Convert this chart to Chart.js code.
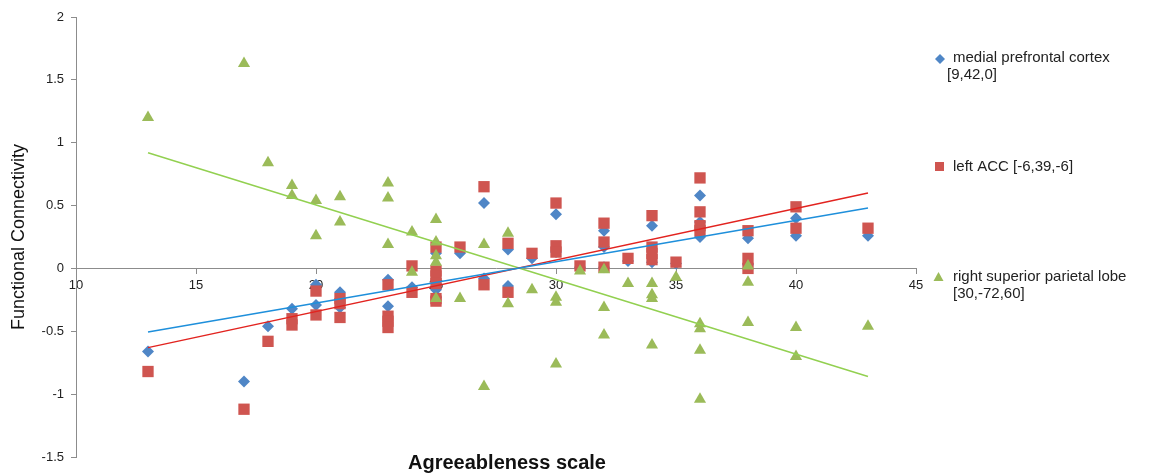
<!DOCTYPE html>
<html>
<head>
<meta charset="utf-8">
<script src="https://cdn.jsdelivr.net/npm/chart.js@4.4.1/dist/chart.umd.min.js"></script>
<style>
  html, body { margin: 0; padding: 0; background: #fff; }
</style>
</head>
<body>
<canvas id="chart" width="1150" height="475"></canvas>
<script>
// agreeableness score (x) and functional connectivity (y) per subject
const mpfcX = [13, 17, 18, 19, 20, 20, 21, 21, 23, 23, 24, 25, 25, 25, 26, 27, 27, 28, 28, 29,
               30, 30, 31, 32, 32, 32, 33, 34, 34, 35, 36, 36, 36, 38, 38, 40, 40, 43];
const mpfcY = [-0.66, -0.90, -0.46, -0.32, -0.13, -0.29, -0.19, -0.31, -0.09, -0.30, -0.15, 0.12, -0.17, -0.23,
               0.12, 0.52, -0.08, 0.15, -0.14, 0.08, 0.43, 0.13, 0.01, 0.30, 0.17, 0.01, 0.06, 0.34, 0.05,
               0.04, 0.58, 0.37, 0.25, 0.24, 0.03, 0.40, 0.26, 0.26];

const accX = [13, 17, 18, 19, 19, 20, 20, 21, 21, 21, 23, 23, 23, 23, 24, 24, 25, 25, 25, 25, 25, 25, 26,
              27, 27, 28, 28, 29, 30, 30, 30, 31, 32, 32, 32, 33, 34, 34, 34, 34, 35, 36, 36, 36, 36,
              38, 38, 38, 40, 40, 43];
const accY = [-0.82, -1.12, -0.58, -0.40, -0.45, -0.18, -0.37, -0.24, -0.28, -0.39, -0.13, -0.38, -0.42, -0.47,
              0.02, -0.19, 0.17, -0.02, -0.06, -0.12, -0.24, -0.26, 0.17, 0.65, -0.13, 0.20, -0.19, 0.12,
              0.52, 0.18, 0.13, 0.02, 0.36, 0.21, 0.01, 0.08, 0.42, 0.17, 0.12, 0.07, 0.05, 0.72, 0.45,
              0.34, 0.30, 0.30, 0.08, 0.00, 0.49, 0.32, 0.32];

const splX = [13, 17, 18, 19, 19, 20, 20, 21, 21, 23, 23, 23, 24, 24, 25, 25, 25, 25, 25, 26, 27, 27,
              28, 28, 29, 30, 30, 30, 31, 32, 32, 32, 33, 34, 34, 34, 34, 35, 36, 36, 36, 36, 38, 38, 38,
              40, 40, 43];
const splY = [1.20, 1.63, 0.84, 0.66, 0.58, 0.54, 0.26, 0.57, 0.37, 0.68, 0.56, 0.19, 0.29, -0.03, 0.39,
              0.21, 0.10, 0.05, -0.24, -0.24, 0.19, -0.94, 0.28, -0.28, -0.17, -0.23, -0.27, -0.76, -0.02,
              -0.01, -0.31, -0.53, -0.12, -0.12, -0.21, -0.24, -0.61, -0.07, -0.44, -0.48, -0.65, -1.04,
              0.02, -0.11, -0.43, -0.47, -0.70, -0.46];

// linear trend lines, value at first and last x
const trendX = [13, 43];
const mpfcTrend = [-0.505, 0.48];
const accTrend = [-0.63, 0.60];
const splTrend = [0.92, -0.86];

const seriesNames = [
    ['medial prefrontal cortex', '[9,42,0]'],
    ['left ACC [-6,39,-6]'],
    ['right superior parietal lobe', '[30,-72,60]']
];

const BLUE = '#4F86C6', RED = '#CF5550', GREEN = '#9BBB59';

function pts(xs, ys) {
    return xs.map((x, i) => ({ x: x, y: ys[i] }));
}

Chart.defaults.font.family = '"Liberation Sans", Arial, sans-serif';
Chart.defaults.color = '#222';

// legend on the right + bold x axis title under the plot
const extras = {
    id: 'extras',
    afterDraw(chart) {
        const ctx = chart.ctx;
        const area = chart.chartArea;
        ctx.save();
        ctx.fillStyle = '#111';
        ctx.font = 'bold 20px "Liberation Sans", Arial, sans-serif';
        ctx.textAlign = 'center';
        ctx.textBaseline = 'middle';
        ctx.fillText('Agreeableness scale', (area.left + area.right) / 2 + 11, area.bottom + 6);

        ctx.font = '15px "Liberation Sans", Arial, sans-serif';
        ctx.textAlign = 'left';

        // diamond
        ctx.fillStyle = BLUE;
        ctx.beginPath();
        ctx.moveTo(940, 54); ctx.lineTo(945, 59); ctx.lineTo(940, 64); ctx.lineTo(935, 59);
        ctx.closePath(); ctx.fill();
        ctx.fillStyle = '#222';
        ctx.fillText(seriesNames[0][0], 953, 58);
        ctx.fillText(seriesNames[0][1], 947, 75);

        // square
        ctx.fillStyle = RED;
        ctx.fillRect(935, 162, 9, 9);
        ctx.fillStyle = '#222';
        ctx.fillText(seriesNames[1][0], 953, 167);

        // triangle
        ctx.fillStyle = GREEN;
        ctx.beginPath();
        ctx.moveTo(938.5, 272); ctx.lineTo(943.5, 281); ctx.lineTo(933.5, 281);
        ctx.closePath(); ctx.fill();
        ctx.fillStyle = '#222';
        ctx.fillText(seriesNames[2][0], 953, 277);
        ctx.fillText(seriesNames[2][1], 953, 294);
        ctx.restore();
    }
};

const axisColor = '#8c8c8c';

new Chart(document.getElementById('chart'), {
    type: 'scatter',
    data: {
        datasets: [
            {
                label: 'trend mpfc', data: pts(trendX, mpfcTrend), showLine: true,
                borderColor: '#1E8FDB', borderWidth: 1.5, pointRadius: 0, order: 0
            },
            {
                label: 'trend acc', data: pts(trendX, accTrend), showLine: true,
                borderColor: '#E2231F', borderWidth: 1.5, pointRadius: 0, order: 0
            },
            {
                label: 'trend spl', data: pts(trendX, splTrend), showLine: true,
                borderColor: '#92D050', borderWidth: 1.5, pointRadius: 0, order: 0
            },
            {
                label: seriesNames[0].join(' '), data: pts(mpfcX, mpfcY),
                pointStyle: 'rectRot', pointRadius: 6, backgroundColor: BLUE, borderColor: BLUE,
                borderWidth: 0, order: 3
            },
            {
                label: seriesNames[1].join(' '), data: pts(accX, accY),
                pointStyle: 'rect', pointRadius: 8, backgroundColor: RED, borderColor: RED,
                borderWidth: 0, order: 2
            },
            {
                label: seriesNames[2].join(' '), data: pts(splX, splY),
                pointStyle: 'triangle', pointRadius: 7, backgroundColor: GREEN, borderColor: GREEN,
                borderWidth: 0, order: 1
            }
        ]
    },
    options: {
        responsive: false,
        animation: false,
        devicePixelRatio: 1,
        layout: { padding: { top: 17, right: 234, bottom: 18, left: 0 } },
        plugins: {
            legend: { display: false },
            tooltip: { enabled: false }
        },
        scales: {
            x: {
                type: 'linear',
                min: 10,
                max: 45,
                position: { y: 0 },
                z: 1,
                ticks: { stepSize: 5, padding: 4, font: { size: 13 }, color: '#222' },
                grid: { drawOnChartArea: false, drawTicks: true, tickLength: 5, color: axisColor },
                border: { color: axisColor, width: 1 }
            },
            y: {
                min: -1.5,
                max: 2,
                ticks: {
                    stepSize: 0.5, padding: 7, font: { size: 13 }, color: '#222',
                    callback: v => String(Math.round(v * 10) / 10)
                },
                grid: { drawOnChartArea: false, drawTicks: true, tickLength: 5, color: axisColor },
                border: { color: axisColor, width: 1 },
                title: {
                    display: true, text: 'Functional Connectivity', color: '#111',
                    font: { size: 18 }, padding: { top: 8, bottom: 0 }
                },
                afterFit: function(scale) { scale.width = 76; }
            }
        }
    },
    plugins: [extras]
});
</script>
</body>
</html>
